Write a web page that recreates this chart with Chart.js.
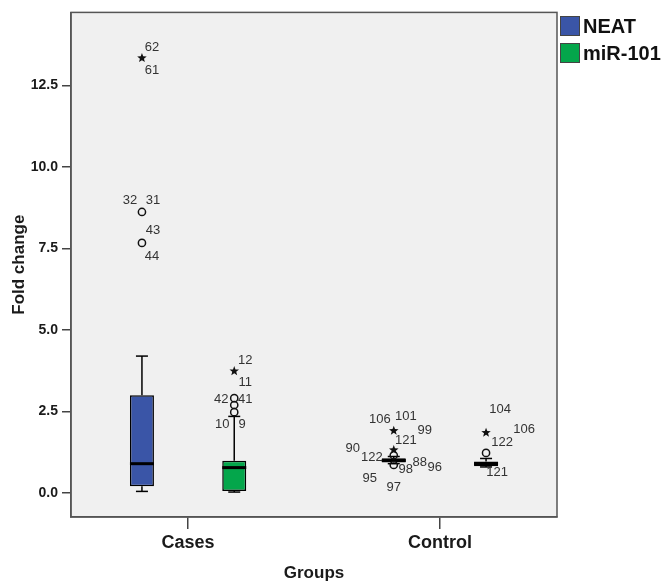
<!DOCTYPE html>
<html><head><meta charset="utf-8">
<script src="https://cdn.jsdelivr.net/npm/chart.js@4"></script>
<style>html,body{margin:0;padding:0;background:#fff}#wrap{width:671px;height:585px}</style>
</head><body><div id="wrap"><canvas id="c" width="671" height="585"></canvas></div>
<script>
// ---------- data ----------
const categories = ['Cases', 'Control'];
const seriesNames = ['NEAT', 'miR-101'];
const yTickValues = [0, 2.5, 5.0, 7.5, 10.0, 12.5];

// box statistics per category [Cases, Control]
const neatWhiskerLow  = [0.05, 0.90];
const neatQ1          = [0.21, 0.94];
const neatMedian      = [0.90, 1.00];
const neatQ3          = [3.00, 1.07];
const neatWhiskerHigh = [4.20, 1.12];

const mirWhiskerLow   = [0.03, 0.80];
const mirQ1           = [0.06, 0.82];
const mirMedian       = [0.78, 0.90];
const mirQ3           = [0.99, 0.97];
const mirWhiskerHigh  = [2.35, 1.06];

// outliers per category: value, marker, case ids
const neatOutliers = [
  [ {v: 13.34, m: 'star',   ids: ['62', '61']},
    {v: 8.62,  m: 'circle', ids: ['32', '31']},
    {v: 7.67,  m: 'circle', ids: ['43', '44']} ],
  [ {v: 1.91,  m: 'star',   ids: ['106', '101', '99', '121']},
    {v: 1.32,  m: 'star',   ids: []},
    {v: 1.16,  m: 'circle', ids: ['90', '122']},
    {v: 0.86,  m: 'circle', ids: ['98', '88', '96', '95', '97']} ]
];
const mirOutliers = [
  [ {v: 3.74, m: 'star',   ids: ['12', '11']},
    {v: 2.91, m: 'circle', ids: ['42', '41']},
    {v: 2.70, m: 'circle', ids: []},
    {v: 2.48, m: 'circle', ids: ['10', '9']} ],
  [ {v: 1.85, m: 'star',   ids: ['104', '106', '122']},
    {v: 1.23, m: 'circle', ids: []},
    {v: 0.80, m: 'none',   ids: ['121']} ]
];

// ---------- layout (label placement relative to marker, px) ----------
const labelOffsets = {
  'NEAT|0|62': [10, -11], 'NEAT|0|61': [10, 12],
  'NEAT|0|32': [-12, -12], 'NEAT|0|31': [11, -12],
  'NEAT|0|43': [11, -13], 'NEAT|0|44': [10, 13],
  'NEAT|1|106': [-14, -11], 'NEAT|1|101': [12, -14], 'NEAT|1|99': [31, 0], 'NEAT|1|121': [12, 10],
  'NEAT|1|90': [-41, -7], 'NEAT|1|122': [-22, 2],
  'NEAT|1|98': [12, 4], 'NEAT|1|88': [26, -3], 'NEAT|1|96': [41, 2], 'NEAT|1|95': [-24, 13], 'NEAT|1|97': [0, 22],
  'miR-101|0|12': [11, -11], 'miR-101|0|11': [11, 11],
  'miR-101|0|42': [-13, 1], 'miR-101|0|41': [11, 1],
  'miR-101|0|10': [-12, 12], 'miR-101|0|9': [8, 12],
  'miR-101|1|104': [14, -23], 'miR-101|1|106': [38, -3], 'miR-101|1|122': [16, 10],
  'miR-101|1|121': [11, 5]
};

const seriesStats = [
  {lo: neatWhiskerLow, q1: neatQ1, med: neatMedian, q3: neatQ3, hi: neatWhiskerHigh, out: neatOutliers},
  {lo: mirWhiskerLow, q1: mirQ1, med: mirMedian, q3: mirQ3, hi: mirWhiskerHigh, out: mirOutliers}
];

const FONT = '"Liberation Sans", Arial, sans-serif';

// category axis whose two groups sit slightly further apart (as in the original SPSS plot)
class SpreadCategoryScale extends Chart.CategoryScale {
  configure() {
    super.configure();
    this._startValue = -0.465;
    this._valueRange = 1.93;
  }
}
SpreadCategoryScale.id = 'spreadCategory';
SpreadCategoryScale.defaults = Chart.CategoryScale.defaults;
Chart.register(SpreadCategoryScale);

function line(ctx, x1, y1, x2, y2) { ctx.beginPath(); ctx.moveTo(x1, y1); ctx.lineTo(x2, y2); ctx.stroke(); }
function star(ctx, x, y, r) {
  ctx.beginPath();
  for (let k = 0; k < 10; k++) {
    const rr = k % 2 === 0 ? r : r * 0.42;
    const a = -Math.PI / 2 + k * Math.PI / 5;
    const px = x + rr * Math.cos(a), py = y + rr * Math.sin(a);
    if (k === 0) ctx.moveTo(px, py); else ctx.lineTo(px, py);
  }
  ctx.closePath(); ctx.fill();
}

const boxPlugin = {
  id: 'boxExtras',
  beforeDraw(chart) {
    const {ctx, chartArea: a} = chart;
    ctx.save(); ctx.fillStyle = '#f0f0f0';
    ctx.fillRect(a.left, a.top, a.right - a.left, a.bottom - a.top);
    ctx.restore();
  },
  beforeDatasetsDraw(chart) {
    const ctx = chart.ctx, y = chart.scales.y;
    ctx.save(); ctx.strokeStyle = '#000'; ctx.lineWidth = 1.5;
    seriesStats.forEach((st, di) => {
      chart.getDatasetMeta(di).data.forEach((bar, i) => {
        const x = bar.x, cap = 12;
        const yhi = y.getPixelForValue(st.hi[i]), ylo = y.getPixelForValue(st.lo[i]);
        const yq1 = y.getPixelForValue(st.q1[i]), yq3 = y.getPixelForValue(st.q3[i]);
        line(ctx, x, yq3, x, yhi); line(ctx, x - cap / 2, yhi, x + cap / 2, yhi);
        line(ctx, x, yq1, x, ylo); line(ctx, x - cap / 2, ylo, x + cap / 2, ylo);
      });
    });
    ctx.restore();
  },
  afterDatasetsDraw(chart) {
    const ctx = chart.ctx, y = chart.scales.y;
    ctx.save();
    seriesStats.forEach((st, di) => {
      const name = chart.data.datasets[di].label;
      chart.getDatasetMeta(di).data.forEach((bar, i) => {
        const x = bar.x, w = bar.width;
        const ym = y.getPixelForValue(st.med[i]);
        ctx.strokeStyle = '#000'; ctx.lineWidth = 3;
        line(ctx, x - w / 2, ym, x + w / 2, ym);
        st.out[i].forEach(o => {
          const py = y.getPixelForValue(o.v);
          ctx.lineWidth = 1.5; ctx.strokeStyle = '#111'; ctx.fillStyle = '#111';
          if (o.m === 'circle') { ctx.beginPath(); ctx.arc(x, py, 3.6, 0, Math.PI * 2); ctx.stroke(); }
          else if (o.m === 'star') { star(ctx, x, py, 5); }
          ctx.font = '13px ' + FONT; ctx.fillStyle = '#333';
          ctx.textAlign = 'center'; ctx.textBaseline = 'middle';
          o.ids.forEach(id => {
            const off = labelOffsets[name + '|' + i + '|' + id] || [12, 0];
            ctx.fillText(id, x + off[0], py + off[1]);
          });
        });
      });
    });
    ctx.restore();
  },
  afterDraw(chart) {
    const {ctx, chartArea: a} = chart;
    ctx.save();
    ctx.strokeStyle = '#555'; ctx.lineWidth = 1.5;
    ctx.strokeRect(a.left, a.top, a.right - a.left, a.bottom - a.top);
    // legend
    chart.data.datasets.forEach((ds, i) => {
      const top = 16 + i * 27;
      ctx.fillStyle = ds.backgroundColor;
      ctx.fillRect(a.right + 3, top, 20, 20);
      ctx.strokeStyle = '#444'; ctx.lineWidth = 1;
      ctx.strokeRect(a.right + 3.5, top + 0.5, 19, 19);
      ctx.fillStyle = '#111'; ctx.font = 'bold 20px ' + FONT;
      ctx.textAlign = 'left'; ctx.textBaseline = 'middle';
      ctx.fillText(ds.label, a.right + 26, top + 11);
    });
    ctx.restore();
  }
};

new Chart(document.getElementById('c'), {
  type: 'bar',
  data: {
    labels: categories,
    datasets: [
      {label: seriesNames[0], data: neatQ1.map((q, i) => [q, neatQ3[i]]),
       backgroundColor: '#3a55a7', borderColor: '#000', borderWidth: 1.5, borderSkipped: false},
      {label: seriesNames[1], data: mirQ1.map((q, i) => [q, mirQ3[i]]),
       backgroundColor: '#04a64b', borderColor: '#000', borderWidth: 1.5, borderSkipped: false}
    ]
  },
  options: {
    responsive: false,
    animation: false,
    devicePixelRatio: 1,
    categoryPercentage: 0.733,
    barPercentage: 0.26,
    layout: {padding: {top: 12, right: 114, left: 0, bottom: 0}},
    plugins: {legend: {display: false}, tooltip: {enabled: false}},
    scales: {
      x: {
        type: 'spreadCategory',
        offset: true,
        grid: {offset: false, drawOnChartArea: false, drawTicks: true, tickLength: 12, color: '#444', lineWidth: 1.5},
        border: {display: true, color: '#555', width: 1.5},
        ticks: {color: '#1a1a1a', padding: 3, font: {family: FONT, size: 18, weight: 'bold'}},
        title: {display: true, text: 'Groups', color: '#1a1a1a', padding: {top: 0, bottom: 1},
                font: {family: FONT, size: 17, weight: 'bold'}},
        afterFit(s) { s.height = 68; }
      },
      y: {
        min: -0.735, max: 14.74,
        afterBuildTicks(s) { s.ticks = yTickValues.map(v => ({value: v})); },
        grid: {drawOnChartArea: false, drawTicks: true, tickLength: 9, color: '#444', lineWidth: 1.5},
        border: {display: true, color: '#555', width: 1.5},
        ticks: {color: '#1a1a1a', padding: 4, font: {family: FONT, size: 14, weight: 'bold'},
                callback: v => Number(v).toFixed(1)},
        title: {display: true, text: 'Fold change', color: '#1a1a1a', padding: {top: 9, bottom: 0},
                font: {family: FONT, size: 17, weight: 'bold'}},
        afterFit(s) { s.width = 71; }
      }
    }
  },
  plugins: [boxPlugin]
});
</script>
</body></html>
